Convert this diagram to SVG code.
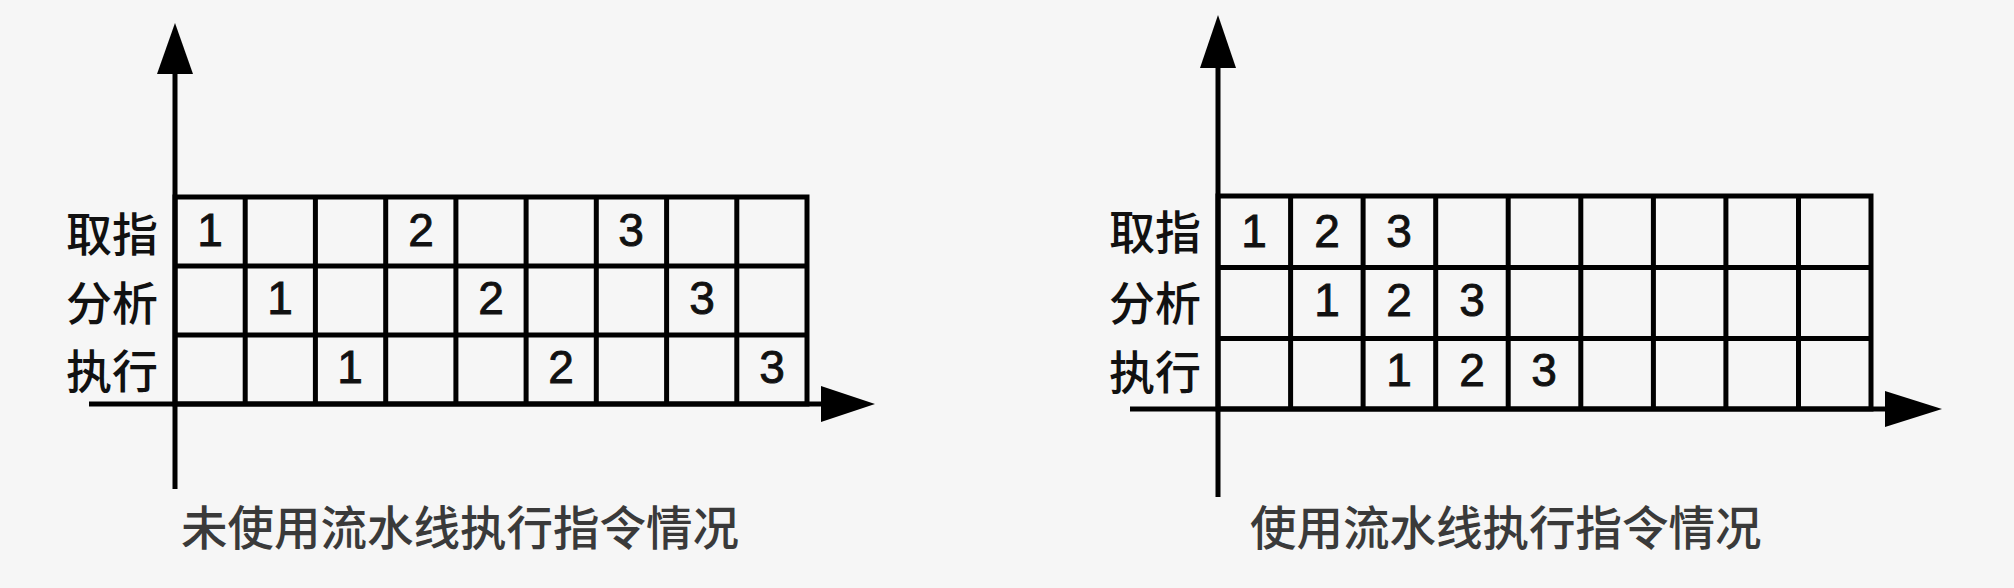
<svg xmlns="http://www.w3.org/2000/svg" width="2014" height="588" viewBox="0 0 2014 588">
<style>
.bg{fill:#f6f6f6}
.grid{fill:none;stroke:#000;stroke-width:5}
.axis{stroke:#000;stroke-width:5;fill:none}
.head{fill:#000}
.lbl{font-family:"Noto Sans CJK SC","Noto Sans CJK JP",sans-serif;font-size:46px;font-weight:500;fill:#111;text-anchor:end;dominant-baseline:central}
.num{font-family:"Liberation Sans",Arial,sans-serif;font-size:46px;fill:#111;stroke:#111;stroke-width:0.9;text-anchor:middle}
.cap{font-family:"Noto Sans CJK SC","Noto Sans CJK JP",sans-serif;font-size:46.5px;font-weight:500;fill:#3a3a3a;dominant-baseline:central}
</style>
<rect class="bg" x="0" y="0" width="2014" height="588"/>

<g id="left-chart">
  <g id="left-grid" class="grid">
    <rect x="175" y="197" width="632" height="207"/>
    <path d="M175 266H807M175 335H807M245.2 197V404M315.4 197V404M385.7 197V404M455.9 197V404M526.1 197V404M596.3 197V404M666.6 197V404M736.8 197V404"/>
  </g>
  <g id="left-labels">
    <text class="lbl" x="158" y="231">取指</text>
    <text class="lbl" x="158" y="300">分析</text>
    <text class="lbl" x="158" y="368">执行</text>
  </g>
  <g id="left-numbers">
    <text class="num" x="210" y="246">1</text>
    <text class="num" x="421" y="246">2</text>
    <text class="num" x="631" y="246">3</text>
    <text class="num" x="280" y="314">1</text>
    <text class="num" x="491" y="314">2</text>
    <text class="num" x="702" y="314">3</text>
    <text class="num" x="350" y="383">1</text>
    <text class="num" x="561" y="383">2</text>
    <text class="num" x="772" y="383">3</text>
  </g>
  <text id="left-caption" class="cap" x="181" y="524">未使用流水线执行指令情况</text>
</g>

<g id="right-chart">
  <g id="right-grid" class="grid">
    <rect x="1218" y="196" width="653" height="213"/>
    <path d="M1218 267.5H1871M1218 338.5H1871M1290.6 196V409M1363.1 196V409M1435.7 196V409M1508.2 196V409M1580.8 196V409M1653.4 196V409M1725.9 196V409M1798.5 196V409"/>
  </g>
  <g id="right-labels">
    <text class="lbl" x="1201" y="229">取指</text>
    <text class="lbl" x="1201" y="300">分析</text>
    <text class="lbl" x="1201" y="369">执行</text>
  </g>
  <g id="right-numbers">
    <text class="num" x="1254" y="247">1</text>
    <text class="num" x="1327" y="247">2</text>
    <text class="num" x="1399" y="247">3</text>
    <text class="num" x="1327" y="316">1</text>
    <text class="num" x="1399" y="316">2</text>
    <text class="num" x="1472" y="316">3</text>
    <text class="num" x="1399" y="386">1</text>
    <text class="num" x="1472" y="386">2</text>
    <text class="num" x="1544" y="386">3</text>
  </g>
  <text id="right-caption" class="cap" x="1250" y="524">使用流水线执行指令情况</text>
</g>

<g id="connectors">
  <path class="axis" d="M175 489V72"/>
  <polygon class="head" points="175,23 157,74 193,74"/>
  <path class="axis" d="M89 404H823"/>
  <polygon class="head" points="875,404 821,386 821,422"/>
  <path class="axis" d="M1218 497V66"/>
  <polygon class="head" points="1218,15 1200,68 1236,68"/>
  <path class="axis" d="M1130 409H1887"/>
  <polygon class="head" points="1942,409 1885,391 1885,427"/>
</g>
</svg>
